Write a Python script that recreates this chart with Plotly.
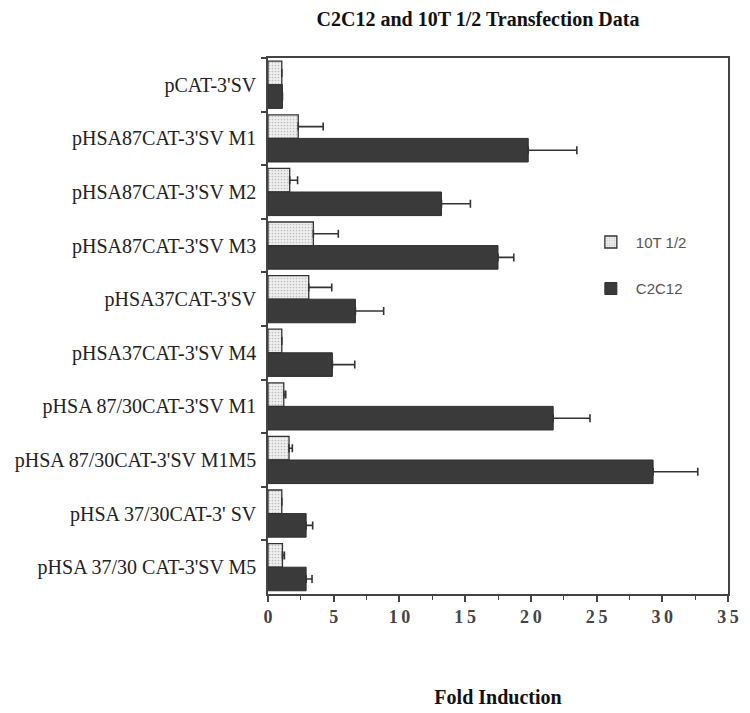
import plotly.graph_objects as go

categories = [
    "pCAT-3'SV",
    "pHSA87CAT-3'SV M1",
    "pHSA87CAT-3'SV M2",
    "pHSA87CAT-3'SV M3",
    "pHSA37CAT-3'SV",
    "pHSA37CAT-3'SV M4",
    "pHSA 87/30CAT-3'SV M1",
    "pHSA 87/30CAT-3'SV M1M5",
    "pHSA 37/30CAT-3' SV",
    "pHSA 37/30 CAT-3'SV M5",
]
t10_values = [1.05, 2.3, 1.65, 3.45, 3.1, 1.05, 1.2, 1.6, 1.05, 1.1]
t10_err = [0.0, 1.9, 0.6, 1.9, 1.75, 0.0, 0.15, 0.25, 0.0, 0.15]
c2c12_values = [1.1, 19.8, 13.2, 17.5, 6.65, 4.9, 21.7, 29.3, 2.9, 2.9]
c2c12_err = [0.0, 3.7, 2.2, 1.2, 2.15, 1.7, 2.8, 3.4, 0.5, 0.45]

tick_vals = [0, 5, 10, 15, 20, 25, 30, 35]
tick_text = ["0", "5", "1\u20090", "1\u20095", "2\u20090", "2\u20095", "3\u20090", "3\u20095"]

serif = "Liberation Serif, Times New Roman, serif"
dark = "#3a3a3a"

fig = go.Figure()
fig.add_trace(go.Bar(
    y=categories, x=t10_values, orientation="h", name="10T 1/2",
    legendgroup="a",
    marker=dict(color="#e6e6e6",
                pattern=dict(shape=".", fgcolor="#8c8c8c", bgcolor="#efefef", size=3, solidity=0.25),
                line=dict(color="#333333", width=1.3)),
    error_x=dict(type="data", symmetric=False, array=t10_err,
                 arrayminus=[0] * len(t10_err), color="#333333", thickness=1.6, width=4),
))
fig.add_trace(go.Bar(
    y=categories, x=c2c12_values, orientation="h", name="C2C12",
    legendgroup="b",
    marker=dict(color=dark, line=dict(color="#2e2e2e", width=1)),
    error_x=dict(type="data", symmetric=False, array=c2c12_err,
                 arrayminus=[0] * len(c2c12_err), color="#333333", thickness=1.6, width=4),
))

# the page body adds an 8px offset; margins compensate for it
fig.update_layout(
    width=750, height=713,
    margin=dict(l=260, r=30, t=50, b=127),
    paper_bgcolor="white", plot_bgcolor="white",
    barmode="group", bargap=0.12, bargroupgap=0,
    title=dict(text="<b>C2C12 and 10T 1/2 Transfection Data</b>",
               font=dict(family=serif, size=20, color="#111"),
               x=470 / 750, xanchor="center", y=1 - 11 / 713, yanchor="middle"),
    legend=dict(x=0.691, y=0.687, xanchor="left", yanchor="top",
                font=dict(family="Liberation Sans, Arial, sans-serif", size=15, color="#555"),
                tracegroupgap=24, bgcolor="rgba(0,0,0,0)", itemwidth=40),
    showlegend=True,
)
fig.update_xaxes(
    range=[0, 35], tickvals=tick_vals, ticktext=tick_text, automargin=False,
    ticks="outside", ticklen=6, tickwidth=1.5, tickcolor="#444",
    minor=dict(dtick=2.5, ticks="outside", ticklen=4, tickwidth=1.2, tickcolor="#444"),
    showline=True, linecolor="#444", linewidth=1.5, mirror=True,
    showgrid=False, zeroline=False,
    tickfont=dict(family=serif, size=18, color="#444", weight="bold"),
    title=dict(text="<b>Fold Induction</b>", font=dict(family=serif, size=20, color="#111"),
               standoff=64),
)
fig.update_yaxes(
    autorange="reversed", automargin=False,
    ticks="outside", tickson="boundaries", ticklen=5, tickwidth=1.5, tickcolor="#444",
    showline=True, linecolor="#444", linewidth=1.5, mirror=True,
    showgrid=False, ticklabelstandoff=6,
    tickfont=dict(family=serif, size=20, color="#222"),
)

fig.write_html("out.html")
